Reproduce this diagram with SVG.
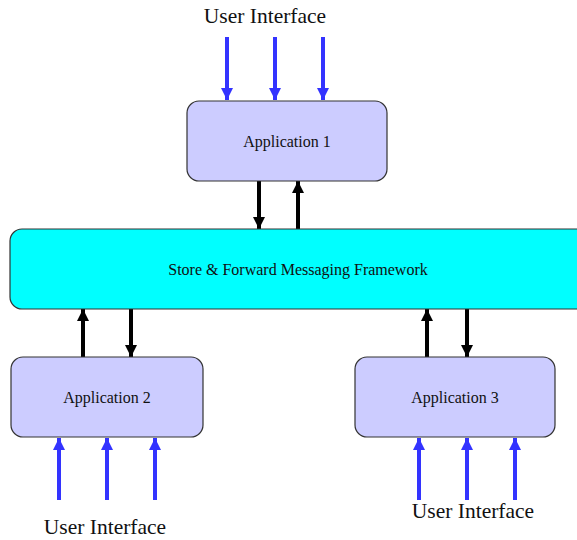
<svg xmlns="http://www.w3.org/2000/svg" width="577" height="540" viewBox="0 0 577 540">
<style>
.app{fill:#ccccff;stroke:#333;stroke-width:1.2}
.fw{fill:#00ffff;stroke:#333;stroke-width:1.2}
.lbl{font-family:"Liberation Serif",serif;font-size:16px;fill:#111;text-anchor:middle}
.ui{font-family:"Liberation Serif",serif;font-size:21.5px;fill:#111;text-anchor:middle}
.blue{stroke:#3333ff;stroke-width:4;fill:none;marker-end:url(#ab)}
.blk{stroke:#000;stroke-width:4;fill:none;marker-end:url(#ak)}
</style>
<defs>
<marker id="ab" viewBox="0 0 10 10" refX="10" refY="5" markerWidth="3" markerHeight="3" markerUnits="strokeWidth" orient="auto"><path d="M0,0L10,5L0,10z" fill="#3333ff"/></marker>
<marker id="ak" viewBox="0 0 10 10" refX="10" refY="5" markerWidth="3" markerHeight="3" markerUnits="strokeWidth" orient="auto"><path d="M0,0L10,5L0,10z" fill="#000"/></marker>
</defs>
<g id="connectors">
<path class="blue" d="M227,37V100"/>
<path class="blue" d="M275,37V100"/>
<path class="blue" d="M323,37V100"/>
<path class="blue" d="M59,500V438"/>
<path class="blue" d="M107,500V438"/>
<path class="blue" d="M155,500V438"/>
<path class="blue" d="M419,500V438"/>
<path class="blue" d="M467,500V438"/>
<path class="blue" d="M515,500V438"/>
<path class="blk" d="M259,181V229"/>
<path class="blk" d="M298,229V181"/>
<path class="blk" d="M83,357V309"/>
<path class="blk" d="M131,309V357"/>
<path class="blk" d="M427,357V309"/>
<path class="blk" d="M467,309V357"/>
</g>
<g id="ui-top"><text class="ui" x="265" y="23">User Interface</text></g>
<g id="ui-left"><text class="ui" x="105" y="534">User Interface</text></g>
<g id="ui-right"><text class="ui" x="473" y="518">User Interface</text></g>
<g id="app1"><rect class="app" x="187" y="101" width="200" height="80" rx="12"/><text class="lbl" x="287" y="147">Application 1</text></g>
<g id="framework"><rect class="fw" x="10" y="229" width="580" height="80" rx="12"/><text class="lbl" x="298" y="275">Store &amp; Forward Messaging Framework</text></g>
<g id="app2"><rect class="app" x="11" y="357" width="192" height="80" rx="12"/><text class="lbl" x="107" y="403">Application 2</text></g>
<g id="app3"><rect class="app" x="355" y="357" width="200" height="80" rx="12"/><text class="lbl" x="455" y="403">Application 3</text></g>
</svg>
